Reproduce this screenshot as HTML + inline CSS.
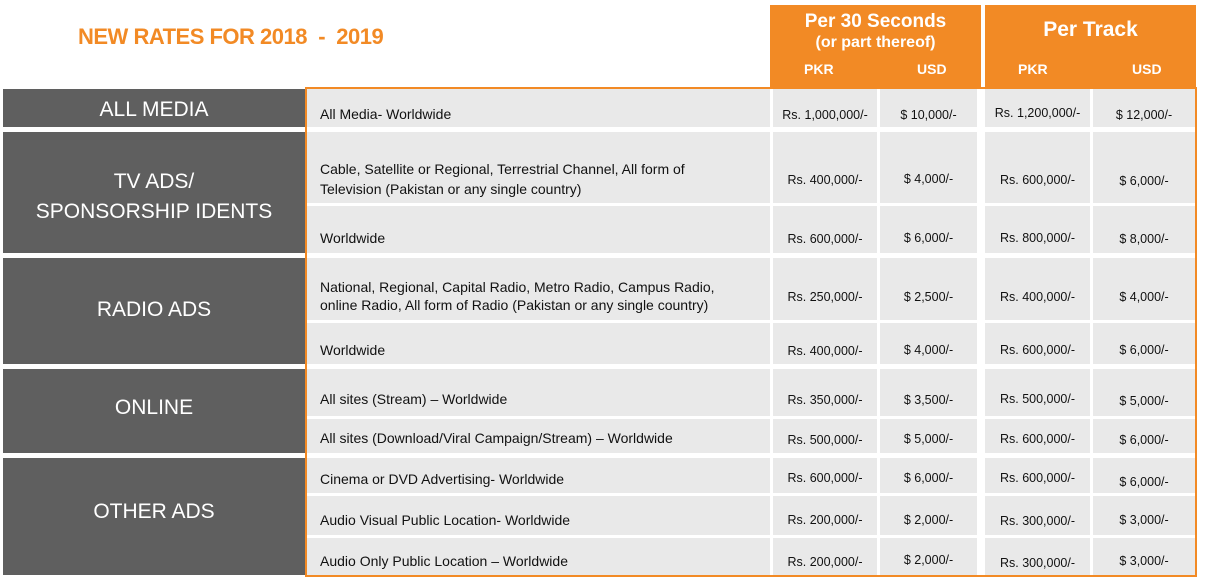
<!DOCTYPE html>
<html><head><meta charset="utf-8"><style>
body{margin:0;width:1215px;height:582px;background:#fff;position:relative;overflow:hidden;font-family:"Liberation Sans",sans-serif}
.a{position:absolute;box-sizing:border-box}
.g{background:#5f5f5f;color:#fff;font-size:21px;text-align:center}
.c{background:#e9e9e9}
.t{position:absolute;white-space:nowrap;color:#111}
.h{background:#f28a25;color:#fff;font-weight:bold}
</style></head><body>
<div class="a" style="left:78px;top:24px;color:#f28a25;font-weight:bold;font-size:22px;letter-spacing:-0.5px">NEW RATES FOR 2018&nbsp; -&nbsp; 2019</div>
<div class="a h" style="left:770px;top:5px;width:211px;height:82px">
<div class="t" style="color:#fff;left:0;width:211px;text-align:center;top:6px;font-size:19px">Per 30 Seconds</div>
<div class="t" style="color:#fff;left:0;width:211px;text-align:center;top:29px;font-size:16px">(or part thereof)</div>
<div class="t" style="color:#fff;left:34px;top:56px;font-size:14px">PKR</div>
<div class="t" style="color:#fff;left:147px;top:56px;font-size:14px">USD</div>
</div>
<div class="a h" style="left:985px;top:5px;width:211px;height:82px">
<div class="t" style="color:#fff;left:0;width:211px;text-align:center;top:13px;font-size:21px">Per Track</div>
<div class="t" style="color:#fff;left:33px;top:56px;font-size:14px">PKR</div>
<div class="t" style="color:#fff;left:147px;top:56px;font-size:14px">USD</div>
</div>
<div class="a" style="left:305px;top:87px;width:892px;height:490px;border:2px solid #f28a25"></div>
<div id="tbl"></div>
<script>
const groups=[["ALL MEDIA",89,127,[111]],["TV ADS/|SPONSORSHIP IDENTS",132,253,[183,213]],["RADIO ADS",258,364,[311]],["ONLINE",369,453,[409]],["OTHER ADS",458,575,[513]]];
const rows=[
[89,127,["All Media- Worldwide"],[114],["Rs. 1,000,000/-","$ 10,000/-","Rs. 1,200,000/-","$ 12,000/-"],[115,115,113,115]],
[132,203,["Cable, Satellite or Regional, Terrestrial Channel, All form of","Television (Pakistan or any single country)"],[169,189],["Rs. 400,000/-","$ 4,000/-","Rs. 600,000/-","$ 6,000/-"],[180,179,180,181]],
[206,253,["Worldwide"],[238],["Rs. 600,000/-","$ 6,000/-","Rs. 800,000/-","$ 8,000/-"],[239,238,238,239]],
[258,320,["National, Regional, Capital Radio, Metro Radio, Campus Radio,","online Radio, All form of Radio (Pakistan or any single country)"],[287,305],["Rs. 250,000/-","$ 2,500/-","Rs. 400,000/-","$ 4,000/-"],[297,297,297,297]],
[323,364,["Worldwide"],[350],["Rs. 400,000/-","$ 4,000/-","Rs. 600,000/-","$ 6,000/-"],[351,350,350,350]],
[369,416,["All sites (Stream) – Worldwide"],[399],["Rs. 350,000/-","$ 3,500/-","Rs. 500,000/-","$ 5,000/-"],[400,400,399,401]],
[419,453,["All sites (Download/Viral Campaign/Stream) – Worldwide"],[438],["Rs. 500,000/-","$ 5,000/-","Rs. 600,000/-","$ 6,000/-"],[440,439,439,440]],
[458,493,["Cinema or DVD Advertising- Worldwide"],[479],["Rs. 600,000/-","$ 6,000/-","Rs. 600,000/-","$ 6,000/-"],[478,478,478,482]],
[496,535,["Audio Visual Public Location- Worldwide"],[520],["Rs. 200,000/-","$ 2,000/-","Rs. 300,000/-","$ 3,000/-"],[520,520,521,520]],
[538,575,["Audio Only Public Location – Worldwide"],[561],["Rs. 200,000/-","$ 2,000/-","Rs. 300,000/-","$ 3,000/-"],[562,560,563,561]]];
const cols=[[773,877],[880,977],[985,1090],[1093,1195]];
const T=document.getElementById('tbl');
function box(x,y,w,h,cls){const d=document.createElement('div');d.className='a '+cls;d.style.cssText=`left:${x}px;top:${y}px;width:${w}px;height:${h}px`;T.appendChild(d);return d;}
function txt(p,s,x,y,fs,center,w){const t=document.createElement('div');t.className='t';t.textContent=s;t.style.fontSize=fs+'px';t.style.top=(y-fs*0.6)+'px';if(center){t.style.left='0';t.style.width=w+'px';t.style.textAlign='center';}else t.style.left=x+'px';p.appendChild(t);return t;}
groups.forEach(g=>{
  const d=box(3,g[1],302,g[2]-g[1],'g');
  
  
  g[0].split('|').forEach((s,i)=>{const t=txt(d,s,0,g[3][i]-g[1],21,true,302);t.style.color='#fff';});
});
rows.forEach(r=>{
  const h=r[1]-r[0];
  const d=box(307,r[0],463,h,'c');
  
  
  r[2].forEach((s,i)=>txt(d,s,13,r[3][i]-r[0],14,false));
  cols.forEach((c,j)=>{
    const v=box(c[0],r[0],c[1]-c[0],h,'c');
    
    
    txt(v,r[4][j],0,r[5][j]-r[0],12.5,true,c[1]-c[0]);
  });
});
</script>
</body></html>
